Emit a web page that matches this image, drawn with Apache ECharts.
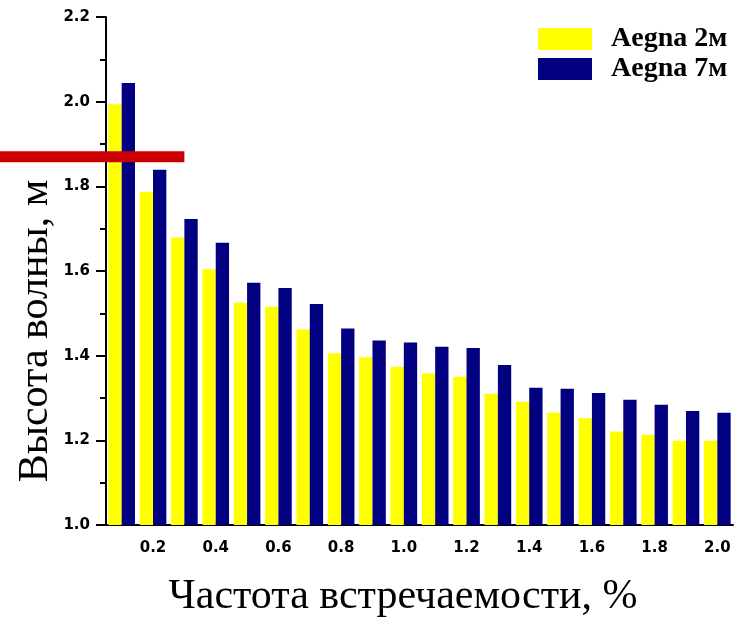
<!DOCTYPE html>
<html>
<head>
<meta charset="utf-8">
<script src="https://cdn.jsdelivr.net/npm/echarts@6/dist/echarts.min.js"></script>
<style>
  html, body { margin: 0; padding: 0; background: #fff; }
  #main { width: 745px; height: 619px; }
</style>
</head>
<body>
<div id="main"></div>
<script>
const categories = ['0.1', '0.2', '0.3', '0.4', '0.5', '0.6', '0.7', '0.8', '0.9', '1.0',
                    '1.1', '1.2', '1.3', '1.4', '1.5', '1.6', '1.7', '1.8', '1.9', '2.0'];
const aegna2 = [1.994, 1.787, 1.679, 1.604, 1.525, 1.516, 1.462, 1.406, 1.396, 1.374,
                1.358, 1.350, 1.310, 1.291, 1.265, 1.252, 1.221, 1.213, 1.199, 1.199];
const aegna7 = [2.044, 1.839, 1.723, 1.667, 1.572, 1.560, 1.522, 1.464, 1.436, 1.431,
                1.421, 1.418, 1.378, 1.324, 1.322, 1.312, 1.296, 1.284, 1.269, 1.265];
const seriesNames = ['Aegna 2м', 'Aegna 7м'];
const yMin = 1.0, yMax = 2.2, yStep = 0.2;
const redLineValue = 1.87;
const redLineEndCategory = '0.3';

const labelFont = {fontFamily: 'DejaVu Sans', fontWeight: 'bold', fontSize: 15, color: '#000'};
const isMajor = i => i % 2 === 1;

const chart = echarts.init(document.getElementById('main'));
chart.setOption({
    animation: false,
    grid: {left: 106, right: 12, top: 17, bottom: 94},
    legend: {
        orient: 'vertical',
        left: 538,
        top: 25,
        padding: 0,
        itemWidth: 54,
        itemHeight: 22,
        itemGap: 2,
        icon: 'rect',
        textStyle: {
            fontFamily: 'Liberation Serif', fontWeight: 'bold', fontSize: 28, color: '#000',
            lineHeight: 22, padding: [0, 0, 0, 14]
        },
        data: seriesNames
    },
    xAxis: [
        {
            type: 'category',
            data: categories,
            position: 'bottom',
            axisLine: {lineStyle: {color: '#000', width: 2}},
            axisTick: {alignWithLabel: true, length: 9, interval: isMajor, lineStyle: {color: '#000', width: 2}},
            axisLabel: Object.assign({interval: isMajor, margin: 16}, labelFont),
            splitLine: {show: false}
        },
        {
            type: 'category',
            data: categories,
            position: 'bottom',
            axisLine: {show: false},
            axisTick: {alignWithLabel: true, length: 5, interval: 0, lineStyle: {color: '#000', width: 2}},
            axisLabel: {show: false},
            splitLine: {show: false}
        }
    ],
    yAxis: {
        type: 'value',
        min: yMin,
        max: yMax,
        interval: yStep,
        axisLine: {show: true, lineStyle: {color: '#000', width: 2}},
        axisTick: {show: true, length: 10, lineStyle: {color: '#000', width: 2}},
        minorTick: {show: true, splitNumber: 2, length: 6, lineStyle: {color: '#000', width: 2}},
        axisLabel: Object.assign({margin: 16, formatter: v => v.toFixed(1)}, labelFont),
        splitLine: {show: false}
    },
    series: [
        {
            name: seriesNames[0], type: 'bar', data: aegna2,
            barGap: '0%', barCategoryGap: '15%',
            itemStyle: {color: '#ffff00'}
        },
        {
            name: seriesNames[1], type: 'bar', data: aegna7,
            barGap: '0%', barCategoryGap: '15%',
            itemStyle: {color: '#000080'}
        }
    ]
});

// red marker line and axis titles
const lineY = chart.convertToPixel({yAxisIndex: 0}, redLineValue);
const lineEndX = chart.convertToPixel({xAxisIndex: 0}, redLineEndCategory);
chart.setOption({
    graphic: [
        {
            type: 'line', z: 100,
            shape: {x1: 0, y1: lineY, x2: lineEndX, y2: lineY},
            style: {stroke: '#cc0000', lineWidth: 11}
        },
        {
            type: 'text', x: 36, y: 331, rotation: Math.PI / 2,
            style: {
                text: 'Высота волны, м', fill: '#000',
                font: '42px "Liberation Serif"', align: 'center', verticalAlign: 'middle'
            }
        },
        {
            type: 'text', x: 403, y: 597,
            style: {
                text: 'Частота встречаемости, %', fill: '#000',
                font: '42px "Liberation Serif"', align: 'center', verticalAlign: 'middle'
            }
        }
    ]
});
</script>
</body>
</html>
